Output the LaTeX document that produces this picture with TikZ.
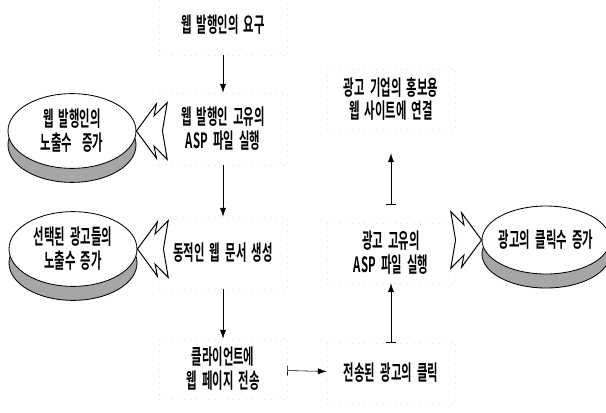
\documentclass[tikz,border=0pt]{standalone}
\usepackage{fontspec}
\setmainfont{Noto Sans CJK KR Bold}[FakeStretch=0.54]
\usetikzlibrary{arrows.meta,shapes.geometric}
\newcommand\krspace{\spaceskip=0.25em\relax}

\begin{document}
\begin{tikzpicture}[
    node distance=2.8cm,
    font=\fontsize{15}{17}\selectfont\krspace,
    box/.style={rectangle, draw=black!12, loosely dotted, align=center, minimum width=3.2cm, minimum height=1.5cm},
    tall/.style={minimum height=1.8cm},
    disc/.style={ellipse, draw, semithick, fill=white, align=center, inner xsep=-0.3cm, minimum width=3.2cm, minimum height=1.7cm,
        preaction={draw, semithick, fill=black!35, transform canvas={yshift=-0.35cm}}},
    arrow/.style={-{Latex[length=2.2mm,width=1.5mm]}, thin},
    bararrow/.style={{Bar[width=2.5mm]}-{Latex[length=2.2mm,width=1.5mm]}, thin},
    zigzag/.pic={\draw[fill=white, line width=0.7pt, line join=miter]
        (0,0) -- (0.5,0.68) -- (0.44,0.375) -- (0.77,0.71) -- (0.65,0)
        -- (0.77,-0.71) -- (0.44,-0.375) -- (0.5,-0.68) -- cycle;}
]
\useasboundingbox (0,0) rectangle (15.15,-10.3);

\node[box] (req) at (5.575,-0.625) {웹 발행인의 요구};
\node[box, tall, below of=req, yshift=0.2cm] (aspA) {웹 발행인 고유의\\ASP 파일 실행};
\node[box, tall, below of=aspA, yshift=-0.3cm] (dyn) {동적인 웹 문서 생성};
\node[box, below of=dyn, yshift=-0.1cm] (client) {클라이언트에\\웹 페이지 전송};
\node[box, right of=client, xshift=1.4cm, yshift=-0.1cm] (click) {전송된 광고의 클릭};
\node[box, above of=click, yshift=0.2cm] (aspB) {광고 고유의\\ASP 파일 실행};
\node[box, above of=aspB, yshift=1.05cm] (link) {광고 기업의 홍보용\\웹 사이트에 연결};

\node[disc, left of=aspA, xshift=-0.975cm, yshift=-0.05cm] (pubEll) {웹 발행인의\\노출수\ \ 증가};
\node[disc, left of=dyn, xshift=-0.95cm, yshift=0.1cm] (adEll) {선택된 광고들의\\노출수 증가};
\node[disc, right of=aspB, xshift=1.075cm, yshift=0.325cm] (clickEll) {광고의 클릭수 증가};

\pic at (pubEll.east) {zigzag};
\pic at (adEll.east) {zigzag};
\pic[xscale=-1] at (clickEll.west) {zigzag};

\draw[arrow] (req) -- (aspA);
\draw[arrow] (aspA) -- (dyn);
\draw[arrow] (dyn) -- (client);
\draw[bararrow] (client) -- (click);
\draw[bararrow] (click) -- (aspB);
\draw[bararrow, shorten <=0.45cm, shorten >=0.6cm] (aspB) -- (link);
\end{tikzpicture}
\end{document}
